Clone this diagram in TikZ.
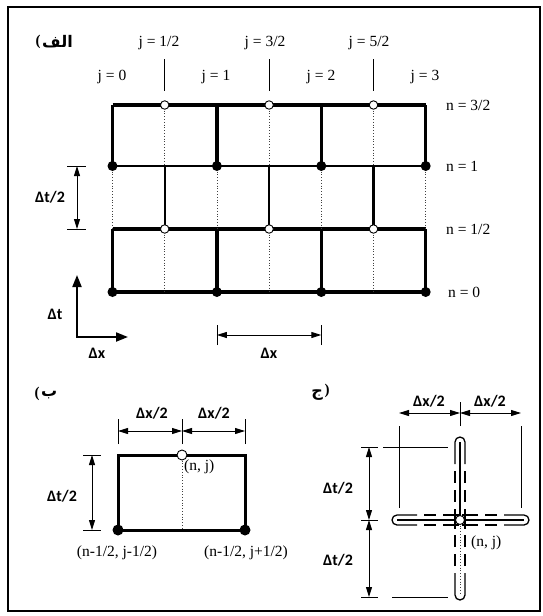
\documentclass[tikz,border=0pt]{standalone}
\usepackage{fontspec}
\setmainfont{Liberation Serif}
\newfontfamily\dfont{Carlito}
\newfontfamily\arabicfont[Script=Arabic]{DejaVu Sans}
\usetikzlibrary{arrows.meta}
\tikzset{
  heavy/.style={line width=3.2pt},
  medium/.style={line width=2.2pt},
  dotline/.style={line width=0.8pt,dotted,black!75},
  fdot/.style={circle,fill=black,inner sep=0pt,minimum size=10pt},
  odot/.style={circle,draw=black,fill=white,line width=0.9pt,inner sep=0pt,minimum size=8.5pt},
  dimline/.style={line width=0.9pt,{Triangle[length=10pt,width=6pt]}-{Triangle[length=10pt,width=6pt]}},
  extline/.style={line width=0.8pt},
  axisarrow/.style={line width=2pt,-{Triangle[length=12pt,width=9pt]}},
  lbl/.style={font=\fontsize{15.5}{17}\selectfont,inner sep=0pt},
  dlbl/.style={font=\dfont\bfseries\fontsize{16}{18}\selectfont,inner sep=0pt},
  albl/.style={font=\arabicfont\bfseries\fontsize{16}{18}\selectfont,inner sep=0pt},
  pbl/.style={font=\bfseries\fontsize{15}{17}\selectfont,inner sep=0pt},
  wall/.style={line width=1.3pt},
  dwall/.style={line width=1.3pt,dash pattern=on 12pt off 7pt},
}
\begin{document}
\begin{tikzpicture}[x=1pt,y=-1pt]
\useasboundingbox (0,0) rectangle (543,616);
\fill[white] (0,0) rectangle (543,616);
% frame
\draw[line width=2.5pt] (8,7) rectangle (540,611);

% ---------------- part (a) ----------------
\node[pbl] (lap) at (38,42) {(};
\node[albl,anchor=west] (la) at (42,42) {الف};
\foreach \k in {0,...,6}{
  \foreach \r/\yy in {0/292,1/229,2/166,3/105}{
    \coordinate (p-\k-\r) at ({112.5+52.2*\k},\yy);
  }
}
% horizontal rows
\draw[heavy] (p-0-3) -- (p-6-3);
\draw[medium] (p-0-2) -- (p-6-2);
\draw[heavy] (p-0-1) -- (p-6-1);
\draw[heavy] (p-0-0) -- (p-6-0);
% verticals
\foreach \k in {0,2,4,6}{
  \draw[heavy] (p-\k-3) -- (p-\k-2);
  \draw[dotline] (p-\k-2) -- (p-\k-1);
  \draw[heavy] (p-\k-1) -- (p-\k-0);
}
\foreach \k in {1,3,5}{
  \draw[dotline] (p-\k-3) -- (p-\k-2);
  \draw[medium] (p-\k-2) -- (p-\k-1);
  \draw[dotline] (p-\k-1) -- (p-\k-0);
  \coordinate (t-\k-a) at ({112.5+52.2*\k},59);
  \coordinate (t-\k-b) at ({112.5+52.2*\k},91);
  \draw[extline] (t-\k-a) -- (t-\k-b);
}
% dots
\foreach \k in {0,2,4,6}{
  \node[fdot] (fd-\k-2) at (p-\k-2) {};
  \node[fdot] (fd-\k-0) at (p-\k-0) {};
}
\foreach \k in {1,3,5}{
  \node[odot] (od-\k-3) at (p-\k-3) {};
  \node[odot] (od-\k-1) at (p-\k-1) {};
}
% j labels
\node[lbl] (jh1) at (159,43) {j = 1/2};
\node[lbl] (jh3) at (265,43) {j = 3/2};
\node[lbl] (jh5) at (369,43) {j = 5/2};
\node[lbl] (j0) at (112,77) {j = 0};
\node[lbl] (j1) at (216,77) {j = 1};
\node[lbl] (j2) at (321,77) {j = 2};
\node[lbl] (j3) at (425,77) {j = 3};
% n labels
\node[lbl,anchor=west] (n32) at (446,105) {n = 3/2};
\node[lbl,anchor=west] (n1) at (446,166) {n = 1};
\node[lbl,anchor=west] (n12) at (446,229) {n = 1/2};
\node[lbl,anchor=west] (n0) at (448,292) {n = 0};
% dt/2 dimension
\coordinate (dt-a) at (77,166);
\coordinate (dt-b) at (77,229);
\draw[dimline] (dt-a) -- (dt-b);
\draw[extline] ([xshift=-10]dt-a) -- ([xshift=9]dt-a);
\draw[extline] ([xshift=-10]dt-b) -- ([xshift=9]dt-b);
\node[dlbl] (ldt2) at (50,197) {\char"0394 t/2};
% axes
\coordinate (ax-o) at (77,337);
\coordinate (ax-t) at (77,275);
\coordinate (ax-x) at (128,337);
\draw[axisarrow] (ax-o) -- (ax-t);
\draw[axisarrow] ([xshift=-1]ax-o) -- (ax-x);
\node[dlbl] (ldt) at (55,314) {\char"0394 t};
\node[dlbl] (ldx) at (97,353) {\char"0394 x};
% dx dimension
\coordinate (dx-a) at (216.9,335);
\coordinate (dx-b) at (321.3,335);
\draw[dimline] (dx-a) -- (dx-b);
\draw[extline] ([yshift=-10]dx-a) -- ([yshift=10]dx-a);
\draw[extline] ([yshift=-10]dx-b) -- ([yshift=10]dx-b);
\node[dlbl] (ldxd) at (269,353) {\char"0394 x};

% ---------------- part (b) ----------------
\node[pbl] (lbp) at (37,394) {(};
\node[albl,anchor=west] (lb) at (41,395) {ب};
\coordinate (b-tl) at (118,455);
\coordinate (b-tr) at (245,455);
\coordinate (b-br) at (245,530);
\coordinate (b-bl) at (118,530);
\coordinate (b-tm) at (182,455);
\coordinate (b-bm) at (182,530);
\draw[heavy,line width=3pt] (b-bl) -- (b-tl) -- (b-tr) -- (b-br);
\draw[heavy,line width=3pt] (b-bl) -- (b-br);
\draw[dotline] (b-tm) -- (b-bm);
\node[odot,minimum size=10pt] (b-o) at (b-tm) {};
\node[fdot,minimum size=11pt] (b-f1) at (b-bl) {};
\node[fdot,minimum size=11pt] (b-f2) at (b-br) {};
% dx/2 dims
\coordinate (bx-1) at (118,431);
\coordinate (bx-2) at (182,431);
\coordinate (bx-3) at (245,431);
\draw[dimline] (bx-1) -- (bx-2);
\draw[dimline] (bx-2) -- (bx-3);
\foreach \i in {1,2,3}{
  \draw[extline] ([yshift=-13]bx-\i) -- ([yshift=12]bx-\i);
}
\node[dlbl] (lbx1) at (152,413) {\char"0394 x/2};
\node[dlbl] (lbx2) at (214,413) {\char"0394 x/2};
% dt/2 dim
\coordinate (bt-1) at (92,455);
\coordinate (bt-2) at (92,530);
\draw[dimline] (bt-1) -- (bt-2);
\draw[extline] ([xshift=-9]bt-1) -- ([xshift=9]bt-1);
\draw[extline] ([xshift=-9]bt-2) -- ([xshift=9]bt-2);
\node[dlbl] (lbt) at (62,496) {\char"0394 t/2};
\node[lbl,anchor=west] (bnj) at (184,467) {(n, j)};
\node[lbl] (bn1) at (117,553) {(n-1/2, j-1/2)};
\node[lbl] (bn2) at (246,553) {(n-1/2, j+1/2)};

% ---------------- part (c) ----------------
\node[albl,anchor=east] (lc) at (323,395) {ج};
\node[pbl] (lcp) at (327,391) {)};
\coordinate (C) at (460,520);
% walls: left arm
\draw[wall] (417,515) -- (397,515) arc[start angle=-90,end angle=-270,radius=5] -- (417,525);
\draw[dwall] (424,515) -- (469,515);
\draw[dwall] (424,525) -- (469,525);
% right arm
\draw[wall] (504,515) -- (524,515) arc[start angle=-90,end angle=90,radius=5] -- (504,525);
\draw[dwall] (497,515) -- (451,515);
\draw[dwall] (497,525) -- (451,525);
% top arm
\draw[wall] (455,464) -- (455,442) arc[start angle=180,end angle=360,radius=5] -- (465,464);
\draw[dwall] (455,471) -- (455,529);
\draw[dwall] (465,471) -- (465,529);
% bottom arm
\draw[wall] (455,573) -- (455,595) arc[start angle=180,end angle=0,radius=5] -- (465,573);
\draw[dwall] (455,566) -- (455,511);
\draw[dwall] (465,566) -- (465,511);
% centre lines
\coordinate (c-l) at (397,520);
\coordinate (c-r) at (524,520);
\coordinate (c-t) at (460,442);
\coordinate (c-b) at (460,595);
\draw[line width=2.2pt] (c-l) -- (c-r);
\draw[line width=2.2pt] (c-t) -- (C);
\draw[dotline] (C) -- (c-b);
\node[odot,minimum size=9pt] (c-o) at (C) {};
% dx/2 dims
\coordinate (cx-1) at (399,413);
\coordinate (cx-2) at (460,413);
\coordinate (cx-3) at (521,413);
\draw[dimline] (cx-1) -- (cx-2);
\draw[dimline] (cx-2) -- (cx-3);
\draw[extline] ([yshift=-13]cx-1) -- (399,508);
\draw[extline] ([yshift=-13]cx-3) -- (521,508);
\draw[extline] ([yshift=-13]cx-2) -- ([yshift=11]cx-2);
\node[dlbl] (lcx1) at (429,401) {\char"0394 x/2};
\node[dlbl] (lcx2) at (490,401) {\char"0394 x/2};
% dt/2 dims
\coordinate (ct-1) at (369,447);
\coordinate (ct-2) at (369,520);
\coordinate (ct-3) at (369,597);
\draw[dimline] (ct-1) -- (ct-2);
\draw[dimline] (ct-2) -- (ct-3);
\foreach \i in {1,2,3}{
  \draw[extline] ([xshift=-8]ct-\i) -- ([xshift=9]ct-\i);
}
\draw[extline] (383,447) -- (448,447);
\draw[extline] (392,597) -- (448,597);
\node[dlbl] (lct1) at (338,488) {\char"0394 t/2};
\node[dlbl] (lct2) at (338,560) {\char"0394 t/2};
\node[lbl,anchor=west] (cnj) at (471,543) {(n, j)};
\end{tikzpicture}
\end{document}
